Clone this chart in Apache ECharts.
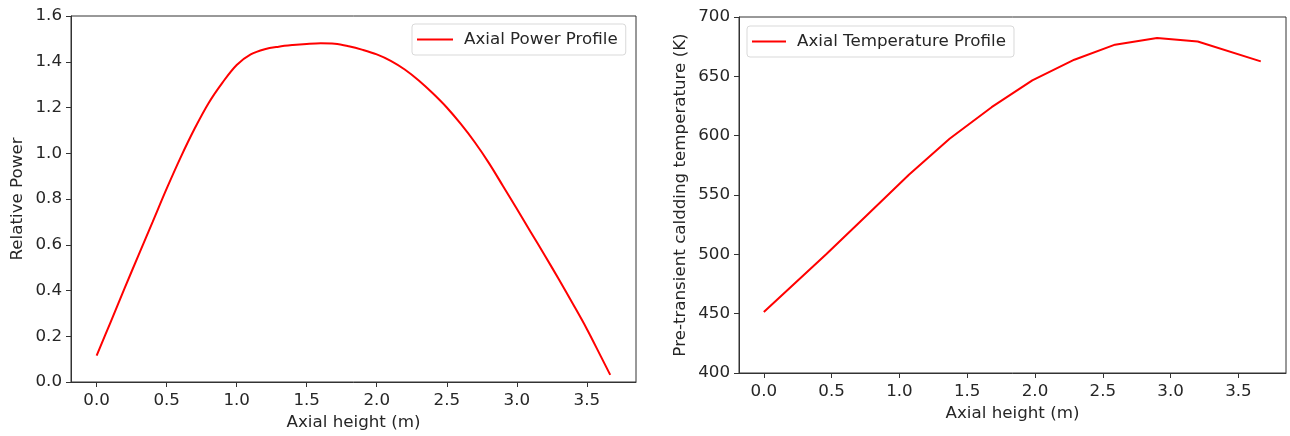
<!DOCTYPE html>
<html>
<head>
<meta charset="utf-8">
<script src="https://cdn.jsdelivr.net/npm/echarts@6/dist/echarts.min.js"></script>
<style>html,body{margin:0;padding:0;background:#fff}#c{width:1290px;height:436px}</style>
</head>
<body>
<div id="c"></div>
<script>
// Left: axial power profile
const powerX = [0.0, 0.1, 0.2, 0.3, 0.4, 0.5, 0.6, 0.7, 0.8, 0.9, 1.0, 1.1, 1.2, 1.3, 1.4, 1.5, 1.6, 1.7, 1.8, 1.9, 2.0, 2.1, 2.2, 2.3, 2.4, 2.5, 2.6, 2.7, 2.8, 2.9, 3.0, 3.1, 3.2, 3.3, 3.4, 3.5, 3.6, 3.667];
const powerY = [0.115, 0.262, 0.41, 0.556, 0.70, 0.845, 0.982, 1.108, 1.22, 1.31, 1.386, 1.432, 1.455, 1.466, 1.473, 1.478, 1.481, 1.479, 1.468, 1.452, 1.432, 1.404, 1.366, 1.318, 1.262, 1.200, 1.128, 1.048, 0.958, 0.858, 0.757, 0.655, 0.553, 0.449, 0.342, 0.232, 0.112, 0.031];
// Right: axial temperature profile
const tempX = [0.0, 0.46, 0.76, 1.07, 1.37, 1.68, 1.98, 2.29, 2.59, 2.9, 3.2, 3.665];
const tempY = [451.4, 500, 533, 567, 597.4, 624, 646.6, 664, 676.7, 682.3, 679.4, 662.6];
const xTicks = [0.0, 0.5, 1.0, 1.5, 2.0, 2.5, 3.0, 3.5];

const FONT = 'DejaVu Sans';
const FS = 16.7;
const TXT = '#262626';
const pair = (xs, ys) => xs.map((x, i) => [x, ys[i]]);

function xAxisDef(gridIndex) {
  return {
    type: 'value', gridIndex, min: -0.183, max: 3.851,
    name: 'Axial height (m)', nameLocation: 'middle', nameGap: gridIndex === 0 ? 32 : 23,
    nameTextStyle: {fontFamily: FONT, fontSize: FS, color: TXT},
    axisLine: {show: true, onZero: false, lineStyle: {color: '#333', width: 1}},
    axisTick: {show: true, length: 5, lineStyle: {color: '#333'}, customValues: xTicks},
    axisLabel: {fontFamily: FONT, fontSize: FS, color: TXT, margin: 10,
      customValues: xTicks, formatter: v => v.toFixed(1)},
    splitLine: {show: false}
  };
}

function yAxisDef(gridIndex, min, max, interval, name, gap, fmt) {
  return {
    type: 'value', gridIndex, min, max, interval,
    name, nameLocation: 'middle', nameGap: gap,
    nameTextStyle: {fontFamily: FONT, fontSize: FS, color: TXT},
    axisLine: {show: true, onZero: false, lineStyle: {color: '#333', width: 1}},
    axisTick: {show: true, length: 5, lineStyle: {color: '#333'}},
    axisLabel: {fontFamily: FONT, fontSize: FS, color: TXT, margin: 9, formatter: fmt},
    splitLine: {show: false}
  };
}

const legendBase = {
  orient: 'vertical', icon: 'rect', itemHeight: 2, itemGap: 8,
  padding: [7, 8, 7, 5], borderColor: '#d9d9d9', borderWidth: 1, borderRadius: 3,
  backgroundColor: '#fff',
  textStyle: {fontFamily: FONT, fontSize: FS, color: TXT, padding: [0, 0, 0, 6]}
};

const option = {
  animation: false,
  backgroundColor: '#fff',
  grid: [
    {left: 71, right: 654, top: 16, bottom: 54, show: true, borderColor: '#333', borderWidth: 1},
    {left: 739, right: 4, top: 17, bottom: 63, show: true, borderColor: '#333', borderWidth: 1}
  ],
  legend: [
    Object.assign({}, legendBase, {data: ['Axial Power Profile'], left: 412, top: 24, itemWidth: 36}),
    Object.assign({}, legendBase, {data: ['Axial Temperature Profile'], left: 747, top: 26, itemWidth: 34})
  ],
  xAxis: [xAxisDef(0), xAxisDef(1)],
  yAxis: [
    yAxisDef(0, 0, 1.6, 0.2, 'Relative Power', 45, v => v.toFixed(1)),
    yAxisDef(1, 400, 700, 50, 'Pre-transient caldding temperature (K)', 50, v => String(v))
  ],
  series: [
    {name: 'Axial Power Profile', type: 'line', xAxisIndex: 0, yAxisIndex: 0,
      data: pair(powerX, powerY), smooth: 0.35, showSymbol: false,
      lineStyle: {color: '#ff0000', width: 2}, itemStyle: {color: '#ff0000'}},
    {name: 'Axial Temperature Profile', type: 'line', xAxisIndex: 1, yAxisIndex: 1,
      data: pair(tempX, tempY), smooth: false, showSymbol: false,
      lineStyle: {color: '#ff0000', width: 2}, itemStyle: {color: '#ff0000'}}
  ]
};
const chart = echarts.init(document.getElementById('c'), null, {renderer: 'canvas'});
chart.setOption(option);
</script>
</body>
</html>
